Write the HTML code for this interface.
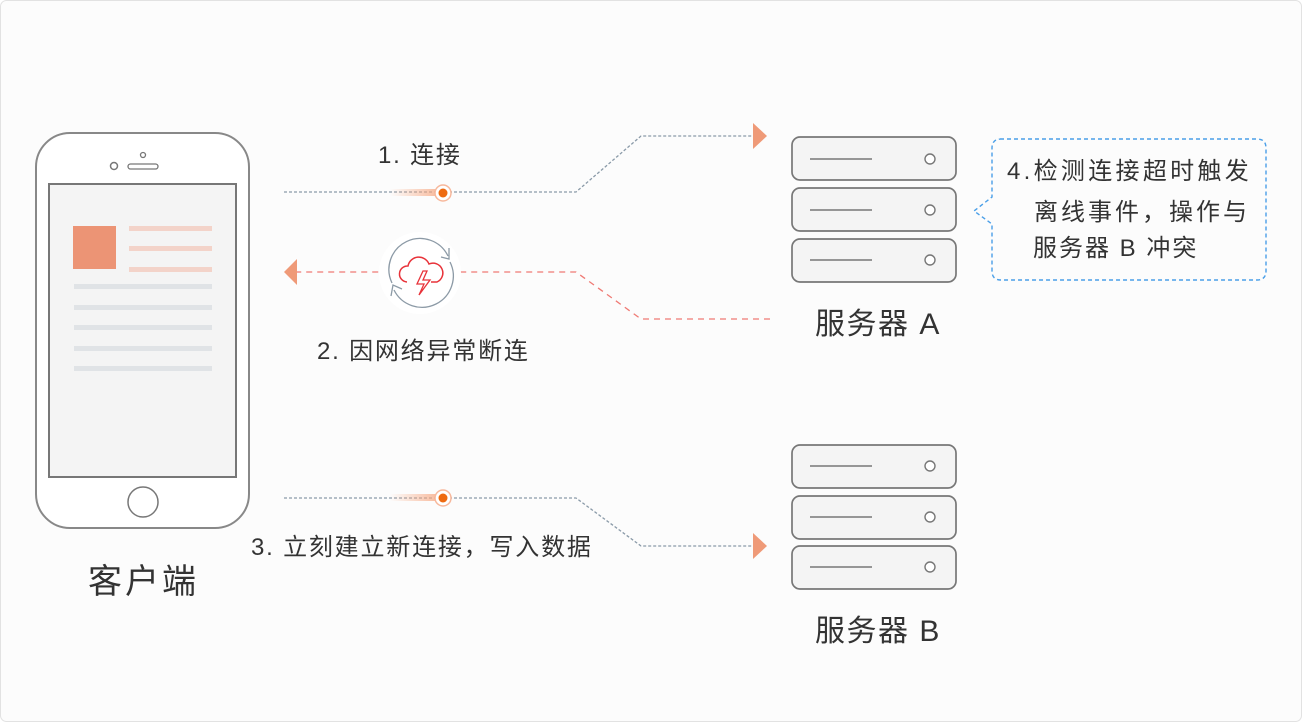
<!DOCTYPE html>
<html><head><meta charset="utf-8"><style>
html,body{margin:0;padding:0;background:#fff;}
svg{display:block;}
text{font-family:"Liberation Sans","Noto Sans CJK SC",sans-serif;fill:#333;}
</style></head><body>
<svg width="1302" height="722" viewBox="0 0 1302 722" xmlns="http://www.w3.org/2000/svg">
<defs>
<linearGradient id="tr" x1="0" x2="1"><stop offset="0" stop-color="#f7a780" stop-opacity="0"/><stop offset="1" stop-color="#f7a780" stop-opacity="0.8"/></linearGradient>
</defs>
<rect x="0.5" y="0.5" width="1301" height="721" rx="6" fill="#fcfcfc" stroke="#e2e2e2"/>
<rect x="36" y="133" width="213" height="395" rx="34" fill="#fff" stroke="#888" stroke-width="2"/>
<rect x="49" y="184" width="187" height="293" fill="#f4f4f4" stroke="#777" stroke-width="2"/>
<rect x="73" y="226" width="43" height="43" fill="#ec9475"/>
<g fill="#f3d3c9"><rect x="129" y="226" width="83" height="5"/><rect x="129" y="246" width="83" height="5"/><rect x="129" y="267" width="83" height="5"/></g>
<g fill="#e0e3e6"><rect x="74" y="284" width="138" height="5"/><rect x="74" y="305" width="138" height="5"/><rect x="74" y="325" width="138" height="5"/><rect x="74" y="346" width="138" height="5"/><rect x="74" y="366" width="138" height="5"/></g>
<circle cx="143" cy="502" r="15" fill="#fff" stroke="#777" stroke-width="1.5"/>
<circle cx="114" cy="166" r="3.5" fill="#fff" stroke="#777" stroke-width="1.5"/>
<circle cx="143" cy="155" r="2.5" fill="#fff" stroke="#777" stroke-width="1.3"/>
<rect x="128" y="164" width="30" height="5" rx="2.5" fill="#fff" stroke="#777" stroke-width="1.3"/>
<text x="88" y="593" font-size="34" letter-spacing="3">客户端</text>
<g fill="none" stroke-width="1.3">
<path d="M284 192 H576 L641 136 H752" stroke="#8a9aa8" stroke-dasharray="3,2"/>
<path d="M770 319 H641 L576 272 H297" stroke="#ef7a74" stroke-dasharray="6,5"/>
<path d="M284 498 H576 L641 546 H752" stroke="#8a9aa8" stroke-dasharray="3,2"/>
</g>
<polygon points="753,123 767,136 753,149" fill="#ef9a78"/>
<polygon points="753,533 767,546 753,559" fill="#ef9a78"/>
<polygon points="297,259 284,272 297,285" fill="#ef9a78"/>
<rect x="390" y="189" width="50" height="7" fill="url(#tr)"/>
<circle cx="443" cy="193" r="8" fill="#fff" stroke="#f7b89c" stroke-width="1.5"/><circle cx="443" cy="193" r="4.5" fill="#ee6a10"/>
<rect x="390" y="494" width="50" height="7" fill="url(#tr)"/>
<circle cx="443" cy="498" r="8" fill="#fff" stroke="#f7b89c" stroke-width="1.5"/><circle cx="443" cy="498" r="4.5" fill="#ee6a10"/>
<circle cx="420" cy="273" r="41" fill="#fff"/>
<g fill="none" stroke="#8c9aa6" stroke-width="1.3">
<path d="M392 283 A30 30 0 0 1 448 256"/><polyline points="449,248 449,259 441,257"/>
<path d="M450 262 A30 30 0 0 1 394 290"/><polyline points="391,296 393,285 402,289"/>
</g>
<path d="M407 282 a8 8 0 0 1 1-16 a11 11 0 0 1 21-2 a8 8 0 0 1 8 18 h-6" fill="none" stroke="#e8333a" stroke-width="1.5"/>
<polygon points="423,271 417,284 424,284 419,295 430,280 423,280 427,271" fill="none" stroke="#e8333a" stroke-width="1.3"/>
<text x="378" y="163" font-size="24" letter-spacing="1.8" fill="#444">1. 连接</text>
<text x="317" y="359" font-size="24" letter-spacing="1.8" fill="#444">2. 因网络异常断连</text>
<text x="251" y="555" font-size="24" letter-spacing="1.8" fill="#444">3. 立刻建立新连接，写入数据</text>
<g fill="#f4f4f4" stroke="#777" stroke-width="1.7">
<rect x="792" y="137" width="164" height="43" rx="8"/><rect x="792" y="188" width="164" height="43" rx="8"/><rect x="792" y="239" width="164" height="43" rx="8"/>
<rect x="792" y="445" width="164" height="43" rx="8"/><rect x="792" y="496" width="164" height="43" rx="8"/><rect x="792" y="546" width="164" height="43" rx="8"/>
</g>
<g stroke="#777" stroke-width="1.4" fill="#fff">
<path d="M810 159 H872 M810 210 H872 M810 260 H872 M810 466 H872 M810 517 H872 M810 567 H872"/>
<circle cx="930" cy="159" r="5"/><circle cx="930" cy="210" r="5"/><circle cx="930" cy="260" r="5"/>
<circle cx="930" cy="466" r="5"/><circle cx="930" cy="517" r="5"/><circle cx="930" cy="567" r="5"/>
</g>
<text x="815" y="334" font-size="30" letter-spacing="1.5">服务器 A</text>
<text x="815" y="641" font-size="30" letter-spacing="1.5">服务器 B</text>
<path d="M1000 139 H1257 Q1266 139 1266 148 V271 Q1266 280 1257 280 H1001 Q992 280 992 271 V224 L974 211 L992 197 V148 Q992 139 1001 139 Z" fill="none" stroke="#4a9fe8" stroke-width="1.4" stroke-dasharray="4,3"/>
<text x="1007" y="179" font-size="24" letter-spacing="3.3" fill="#444">4.检测连接超时触发</text>
<text x="1034" y="220" font-size="24" letter-spacing="3" fill="#444">离线事件，操作与</text>
<text x="1033" y="256" font-size="24" letter-spacing="2" fill="#444">服务器 B 冲突</text>
</svg>
</body></html>
